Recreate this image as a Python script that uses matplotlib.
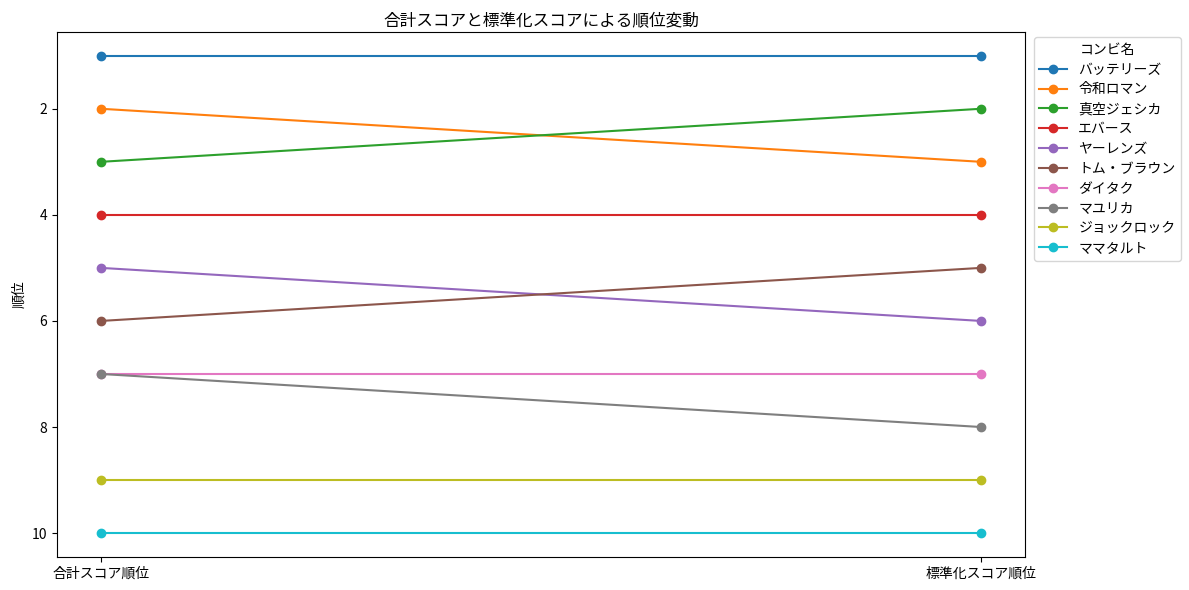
import matplotlib.pyplot as plt

plt.rcParams['font.family'] = ['Noto Sans CJK JP', 'DejaVu Sans']

combis = ['バッテリーズ', '令和ロマン', '真空ジェシカ', 'エバース', 'ヤーレンズ',
          'トム・ブラウン', 'ダイタク', 'マユリカ', 'ジョックロック', 'ママタルト']
total_rank = [1, 2, 3, 4, 5, 6, 7, 7, 9, 10]
std_rank = [1, 3, 2, 4, 6, 5, 7, 8, 9, 10]
x_labels = ['合計スコア順位', '標準化スコア順位']

fig, ax = plt.subplots(figsize=(11.89, 5.9), dpi=100)
for name, a, b in zip(combis, total_rank, std_rank):
    ax.plot([0, 1], [a, b], marker='o', label=name)

ax.set_xticks([0, 1])
ax.set_xticklabels(x_labels)
ax.invert_yaxis()
ax.set_ylabel('順位')
ax.set_title('合計スコアと標準化スコアによる順位変動', pad=5)
ax.legend(title='コンビ名', loc='upper left', bbox_to_anchor=(1.002, 1.003),
          labelspacing=0.42)
fig.subplots_adjust(left=0.048, right=0.862, top=0.946, bottom=0.056)
plt.savefig('out.png', dpi=100)
